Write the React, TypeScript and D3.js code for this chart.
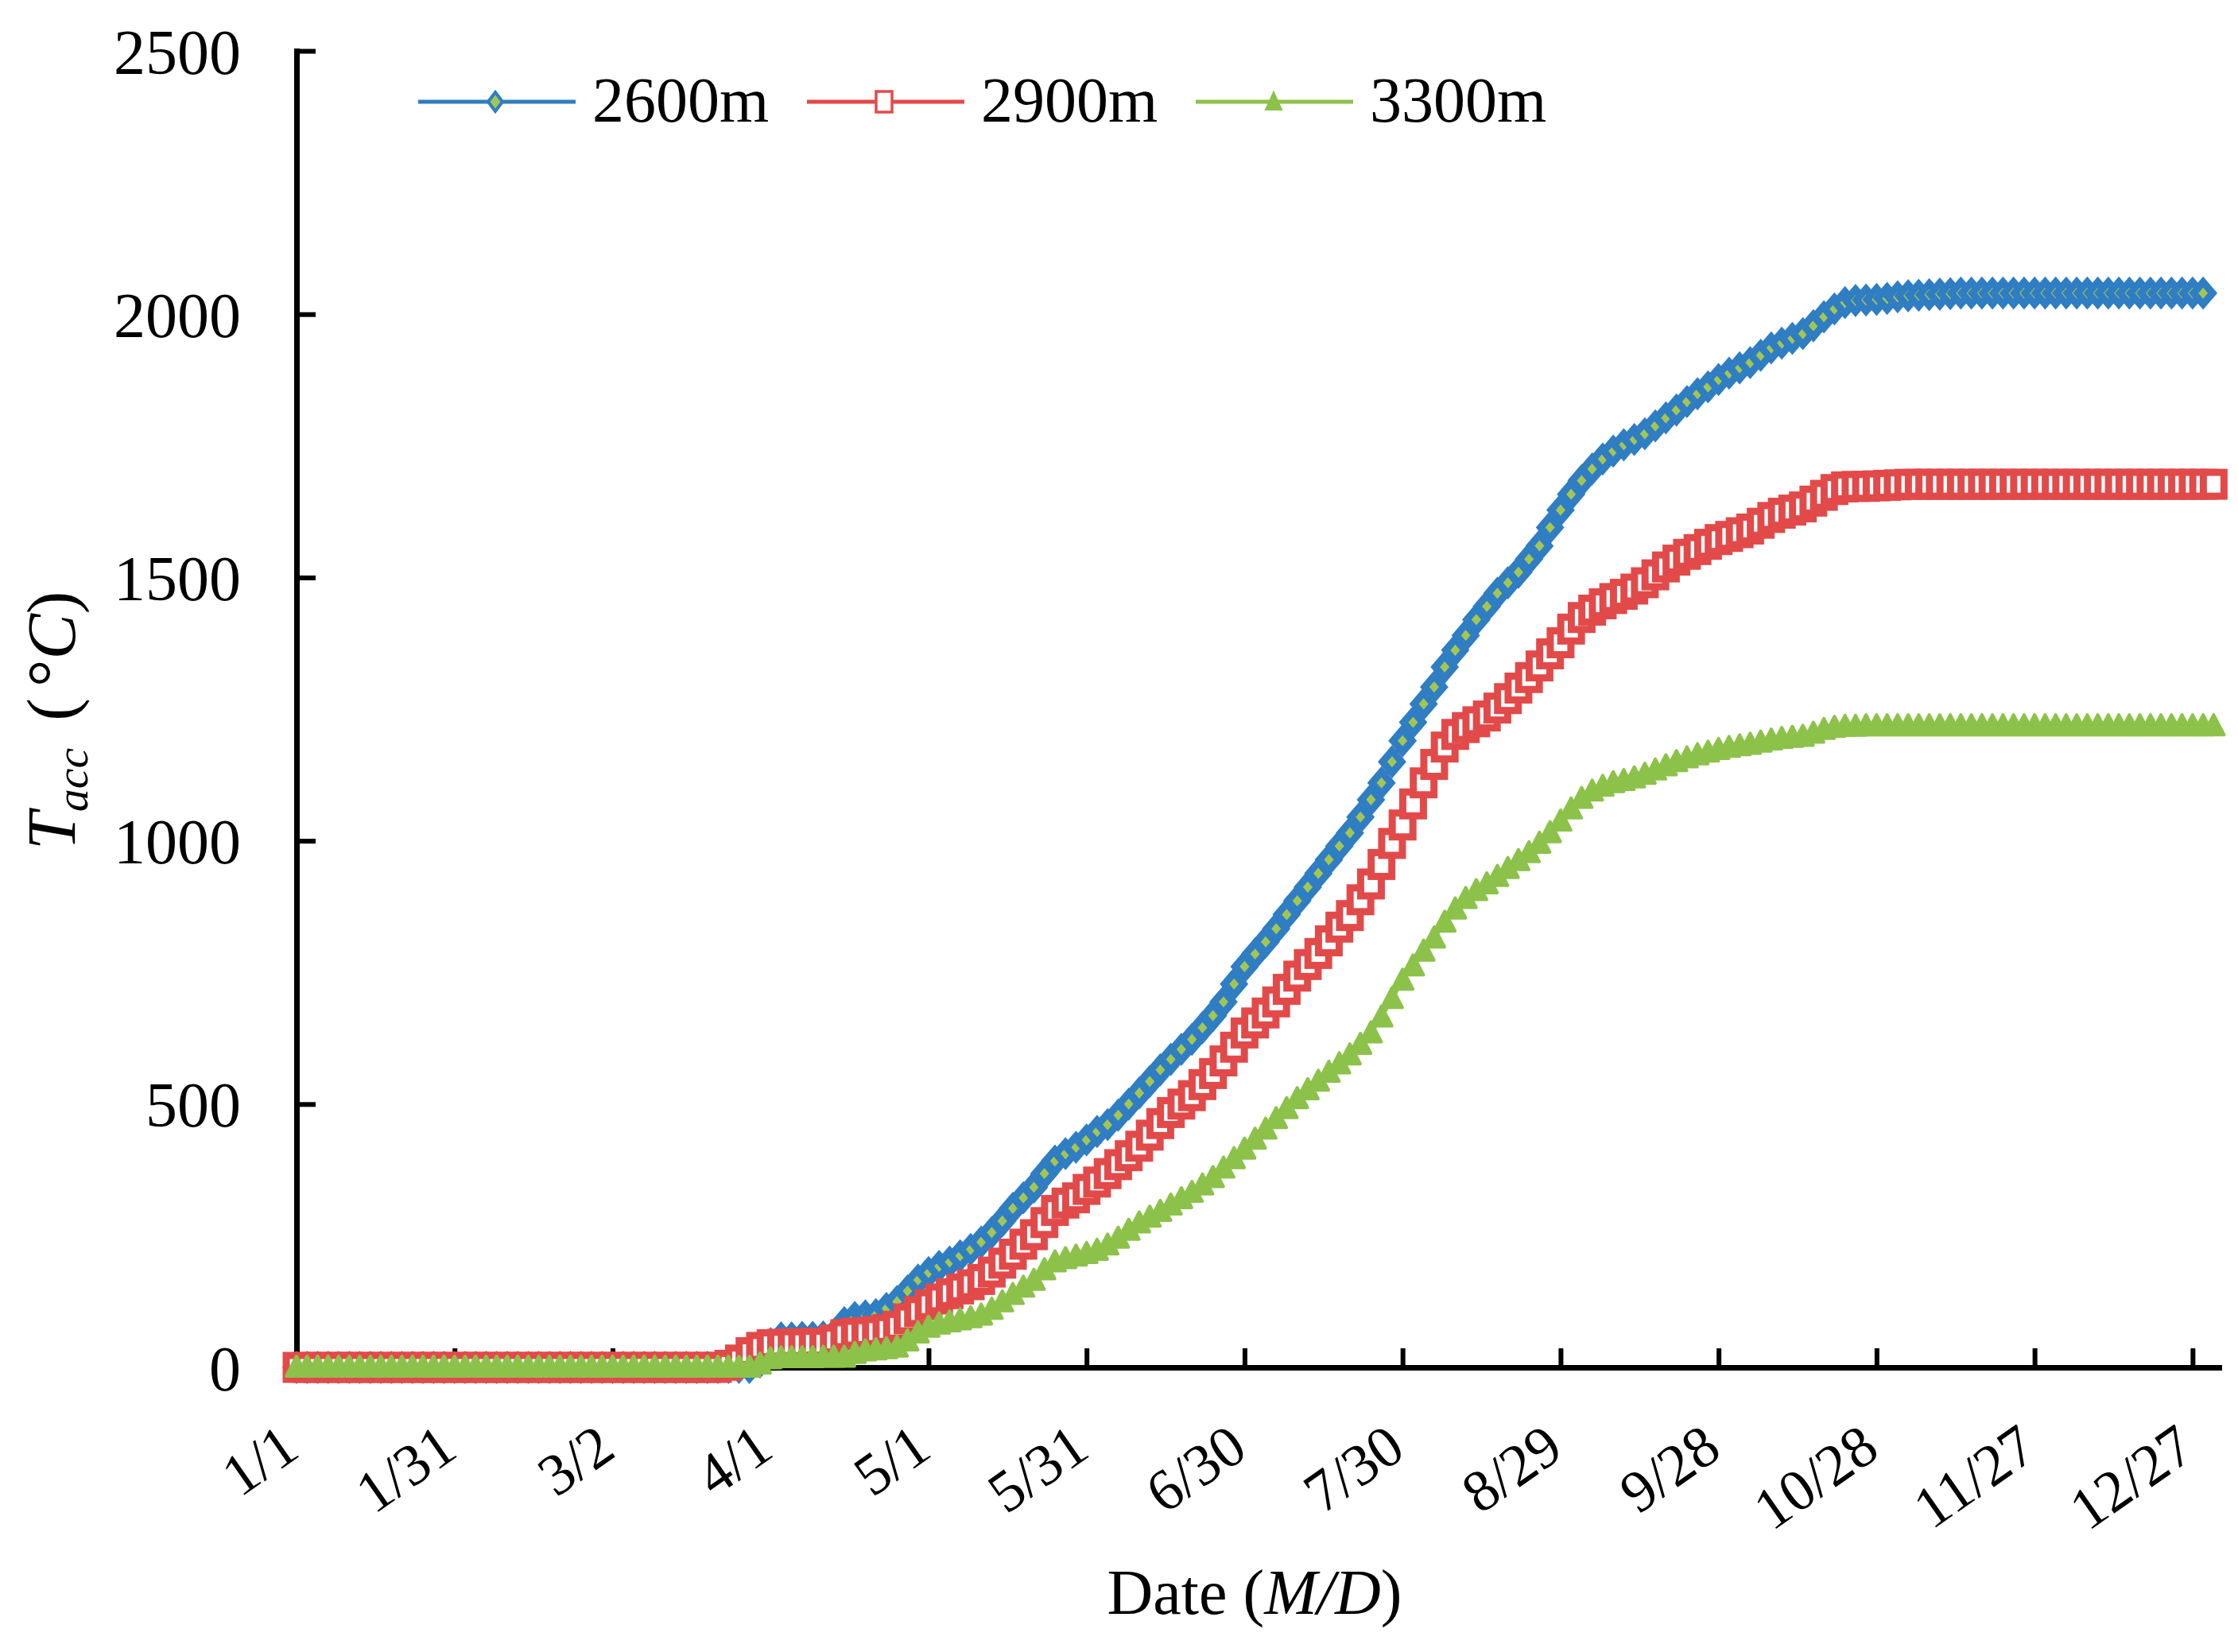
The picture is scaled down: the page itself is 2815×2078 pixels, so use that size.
import React, { useEffect, useRef } from 'react';
import * as d3 from 'd3';

const W = 2815;
const H = 2078;
const SERIF = "'Liberation Serif', 'Times New Roman', serif";

// one value every 2 days, starting 1/1
const dayStep = 2;
const tickDays = [0, 30, 60, 90, 120, 150, 180, 210, 240, 270, 300, 330, 360];
const tickLabels = ['1/1', '1/31', '3/2', '4/1', '5/1', '5/31', '6/30', '7/30', '8/29', '9/28', '10/28', '11/27', '12/27'];
const yTicks = [0, 500, 1000, 1500, 2000, 2500];
const seriesNames = ['2600m', '2900m', '3300m'];

const t2600 = [
  0, 0, 0, 0, 0, 0, 0, 0, 0, 0, 0, 0, 0, 0, 0, 0, 0, 0, 0, 0, 0, 0,
  0, 0, 0, 0, 0, 0, 0, 0, 0, 0, 0, 0, 0, 0, 0, 0, 0, 0, 0, 0, 0, 0,
  10, 45, 56, 56, 57, 57, 58, 62, 85, 95, 98, 100,
  112, 125, 145, 166, 180, 192, 200, 212, 224, 238,
  256, 278, 302, 322, 342, 368, 392, 406, 418, 432,
  448, 461, 479, 500, 521, 543, 565, 585, 604, 623,
  645, 668, 694, 728, 761, 785, 808, 833, 860, 886,
  912, 938, 964, 990, 1015, 1045, 1078, 1110, 1150, 1190,
  1225, 1260, 1292, 1330, 1362, 1390, 1420, 1445, 1470, 1490,
  1510, 1535, 1560, 1595, 1628, 1658, 1684, 1706, 1725, 1740,
  1752, 1762, 1773, 1788, 1803, 1818, 1834, 1849, 1862, 1876,
  1888, 1898, 1908, 1922, 1936, 1945, 1954, 1963, 1978, 1995,
  2010, 2022, 2026, 2027, 2028, 2030, 2033, 2035, 2036, 2037,
  2038, 2039, 2040, 2040, 2040, 2040, 2040, 2040, 2040, 2040, 2040, 2040, 2040,
  2040, 2040, 2040, 2040, 2040, 2040, 2040, 2040, 2040, 2040, 2040, 2040, 2040,
];

const t2900 = [
  0, 0, 0, 0, 0, 0, 0, 0, 0, 0, 0, 0, 0, 0, 0, 0, 0, 0, 0, 0, 0,
  0, 0, 0, 0, 0, 0, 0, 0, 0, 0, 0, 0, 0, 0, 0, 0, 0, 0, 0, 0,
  4, 14, 28,
  38, 43, 44, 45, 45, 46, 46, 52, 62, 65, 66, 68,
  72, 78, 92, 106, 119, 130, 140, 149, 157, 167,
  181, 198, 215, 234, 252, 275, 298, 312, 322, 338,
  352, 368, 385, 402, 420, 441, 463, 484, 500, 516,
  537, 558, 582, 608, 635, 654, 673, 694, 718, 743,
  765, 786, 810, 836, 858, 888, 918, 955, 995, 1030,
  1070, 1110, 1145, 1178, 1202, 1215, 1226, 1237, 1252, 1270,
  1290, 1310, 1332, 1355, 1376, 1402, 1424, 1438, 1450, 1460,
  1468, 1478, 1490, 1505, 1520, 1533, 1544, 1553, 1563, 1572,
  1578, 1585, 1592, 1603, 1614, 1622, 1628, 1634, 1645, 1656,
  1667, 1672, 1673, 1673, 1674, 1675, 1676, 1677, 1677, 1677,
  1677, 1677, 1677, 1677, 1677, 1677, 1677, 1677, 1677, 1677, 1677, 1677, 1677,
  1677, 1677, 1677, 1677, 1677, 1677, 1677, 1677, 1677, 1677, 1677, 1677, 1677, 1677,
];

const t3300 = [
  0, 0, 0, 0, 0, 0, 0, 0, 0, 0, 0, 0, 0, 0, 0, 0, 0, 0, 0, 0, 0, 0,
  0, 0, 0, 0, 0, 0, 0, 0, 0, 0, 0, 0, 0, 0, 0, 0, 0, 0, 0, 0, 0, 0,
  6, 16, 18, 18, 18, 18, 19, 19, 19, 26, 31, 33,
  35, 38, 50, 65, 76, 82, 86, 90, 94, 99,
  110, 124, 138, 152, 165, 185, 200, 206, 211, 216,
  222, 232, 245, 260, 274, 285, 296, 308, 320, 332,
  346, 360, 378, 396, 414, 433, 452, 472, 491, 510,
  527, 543, 560, 576, 593, 613, 635, 665, 700, 735,
  762, 790, 815, 845, 870, 890, 905, 918, 932, 947,
  962, 977, 995, 1015, 1037, 1060, 1080, 1094, 1103, 1110,
  1114, 1119, 1126, 1134, 1142, 1150, 1157, 1163, 1168, 1173,
  1177, 1180, 1183, 1187, 1191, 1194, 1196, 1198, 1204, 1211,
  1215, 1217, 1217, 1218, 1218, 1218, 1218, 1218, 1218, 1218,
  1218, 1218, 1218, 1218, 1218, 1218, 1218, 1218, 1218, 1218, 1218, 1218, 1218,
  1218, 1218, 1218, 1218, 1218, 1218, 1218, 1218, 1218, 1218, 1218, 1218, 1218, 1218,
];

const BLUE = '#2F7DC3';
const RED = '#E24A4A';
const GREEN = '#8CC24A';

// plot markers (overlap into a band like the original)
const diamond = 'M0,-14L12,0L0,14L-12,0Z';
const triangle = 'M0,-14L13,11L-13,11Z';
// legend markers
const diamondSm = 'M0,-12L9,0L0,12L-9,0Z';
const triangleSm = 'M0,-12L10,10L-10,10Z';

const App: React.FC = () => {
  const svgRef = useRef<SVGSVGElement>(null);

  useEffect(() => {
    const svg = d3.select(svgRef.current);
    svg.selectAll('*').remove();

    const x = d3.scaleLinear().domain([0, 365]).range([373, 2791]);
    const y = d3.scaleLinear().domain([0, 2500]).range([1720, 64]);

    // axes
    const gy = svg.append('g').attr('transform', 'translate(373,0)')
      .call(d3.axisLeft(y).tickValues(yTicks).tickSize(-24).tickSizeOuter(0).tickPadding(70).tickFormat(d3.format('d')));
    gy.attr('font-family', SERIF).attr('font-size', 80);
    gy.select('.domain').attr('stroke', '#000').attr('stroke-width', 7).attr('stroke-linecap', 'square');
    gy.selectAll('.tick line').attr('stroke', '#000').attr('stroke-width', 6);
    gy.selectAll('.tick text').attr('fill', '#000').attr('dy', '0.35em');

    const gx = svg.append('g').attr('transform', 'translate(0,1720)')
      .call(d3.axisBottom(x).tickValues(tickDays).tickSize(-24).tickSizeOuter(0)
        .tickFormat((_, i) => tickLabels[i]));
    gx.attr('font-family', SERIF).attr('font-size', 74);
    gx.select('.domain').attr('stroke', '#000').attr('stroke-width', 7).attr('stroke-linecap', 'square');
    gx.selectAll('.tick line').attr('stroke', '#000').attr('stroke-width', 6);
    gx.selectAll('.tick text')
      .attr('fill', '#000')
      .attr('y', 0)
      .attr('dy', null)
      .attr('text-anchor', 'end')
      .attr('transform', 'translate(6,110) rotate(-35)');

    // series
    const series = [
      { name: seriesNames[0], values: t2600, color: BLUE },
      { name: seriesNames[1], values: t2900, color: RED },
      { name: seriesNames[2], values: t3300, color: GREEN },
    ];

    const line = d3.line<number>()
      .x((_, i) => x(i * dayStep))
      .y(v => y(v));

    series.forEach((s, si) => {
      const g = svg.append('g');
      g.append('path')
        .attr('d', line(s.values))
        .attr('fill', 'none')
        .attr('stroke', s.color)
        .attr('stroke-width', 5);
      const pts = g.selectAll('.m').data(s.values).enter();
      if (si === 0) {
        pts.append('path')
          .attr('d', diamond)
          .attr('transform', (v, i) => `translate(${x(i * dayStep)},${y(v)})`)
          .attr('fill', '#A3C653')
          .attr('stroke', s.color)
          .attr('stroke-width', 9);
      } else if (si === 1) {
        pts.append('rect')
          .attr('x', (_, i) => x(i * dayStep) - 13)
          .attr('y', v => y(v) - 15)
          .attr('width', 26)
          .attr('height', 30)
          .attr('fill', '#fff')
          .attr('stroke', s.color)
          .attr('stroke-width', 9);
      } else {
        pts.append('path')
          .attr('d', triangle)
          .attr('transform', (v, i) => `translate(${x(i * dayStep)},${y(v)})`)
          .attr('fill', s.color)
          .attr('stroke', s.color)
          .attr('stroke-width', 4)
          .attr('stroke-linejoin', 'round');
      }
    });

    // legend
    const legend = svg.append('g').attr('font-family', SERIF).attr('font-size', 80);
    series.forEach((s, si) => {
      const lx = 526 + si * 489;
      const ly = 128;
      const g = legend.append('g').attr('transform', `translate(${lx},${ly})`);
      g.append('line').attr('x1', 0).attr('x2', 198).attr('y1', 0).attr('y2', 0)
        .attr('stroke', s.color).attr('stroke-width', 5);
      if (si === 0) {
        g.append('path').attr('d', diamondSm).attr('transform', 'translate(97,0)')
          .attr('fill', '#A3C653').attr('stroke', s.color).attr('stroke-width', 4);
      } else if (si === 1) {
        g.append('rect').attr('x', 87).attr('y', -13).attr('width', 20).attr('height', 26)
          .attr('fill', '#fff').attr('stroke', s.color).attr('stroke-width', 3.5);
      } else {
        g.append('path').attr('d', triangleSm).attr('transform', 'translate(98,0)')
          .attr('fill', s.color).attr('stroke', s.color).attr('stroke-width', 2);
      }
      g.append('text').attr('x', 219).attr('y', 25).attr('fill', '#000').text(s.name);
    });

    // axis titles
    const yt = svg.append('text')
      .attr('font-family', SERIF)
      .attr('font-size', 86)
      .attr('fill', '#000')
      .attr('text-anchor', 'start')
      .attr('transform', 'translate(94,1069) rotate(-90)');
    yt.append('tspan').attr('font-style', 'italic').text('T');
    yt.append('tspan').attr('font-style', 'italic').attr('font-size', 58).attr('dy', 16).text('acc');
    yt.append('tspan').attr('dy', -16).attr('dx', 34).text('(');
    yt.append('tspan').attr('dx', 14).text('°');
    yt.append('tspan').attr('font-style', 'italic').text('C');
    yt.append('tspan').text(')');

    const xt = svg.append('text')
      .attr('font-family', SERIF)
      .attr('font-size', 80)
      .attr('fill', '#000')
      .attr('text-anchor', 'middle')
      .attr('x', 1578)
      .attr('y', 2030);
    xt.append('tspan').text('Date (');
    xt.append('tspan').attr('font-style', 'italic').text('M/D');
    xt.append('tspan').text(')');
  }, []);

  return (
    <svg
      ref={svgRef}
      width={W}
      height={H}
      style={{ position: 'absolute', left: 0, top: 0, background: '#fff' }}
    />
  );
};

export default App;
